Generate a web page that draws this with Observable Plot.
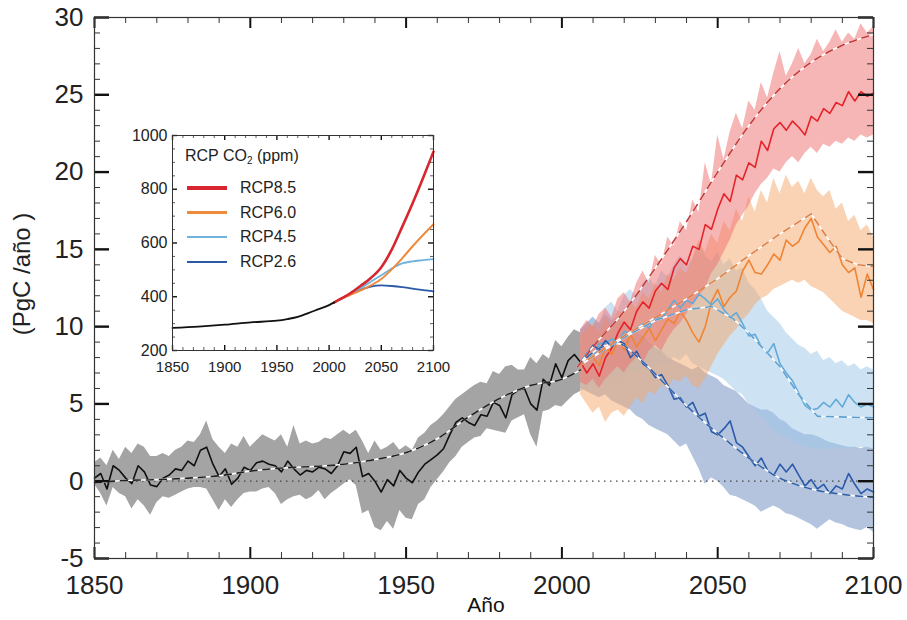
<!DOCTYPE html>
<html><head><meta charset="utf-8">
<script src="https://cdn.jsdelivr.net/npm/d3@7"></script>
<script src="https://cdn.jsdelivr.net/npm/@observablehq/plot@0.6"></script>
<style>
body{margin:0;background:#fff;font-family:"Liberation Sans",Arial,sans-serif;}
#wrap{position:relative;width:907px;height:620px;overflow:hidden;}
#inset{position:absolute;left:117px;top:123px;}
.lg{position:absolute;font-size:16px;color:#222;white-space:nowrap;line-height:18px;}
.lg sub{font-size:10px;vertical-align:-3px;line-height:0;}
.sw{position:absolute;width:40px;}
</style></head><body><div id="wrap"></div>
<script>
// ---------------- Main chart data ----------------
const histYears = d3.range(1850, 2007, 2);
const histMean = [0.2, 0.5, -0.5, 1.0, 0.7,
  0.2, -0.15, 1.0, 0.6, -0.25,
  -0.35, 0.2, 0.4, 0.8, 0.7,
  1.3, 1.0, 2.0, 2.2, 1.1,
  0.3, 0.8, -0.2, 0.2, 0.9,
  0.7, 1.2, 1.3, 1.1, 1.0,
  0.6, 1.3, 0.8, 0.4, 0.7,
  0.6, 0.9, 0.8, 0.5, 1.0,
  1.9, 1.8, 2.2, 0.3, 0.5,
  0.0, -0.7, 0.1, -0.3, 0.7,
  0.2, -0.1, 0.6, 1.1, 1.4,
  1.7, 2.1, 3.0, 3.8, 4.1,
  3.8, 3.6, 4.3, 4.2, 5.1,
  4.9, 4.1, 5.6, 5.9, 6.0,
  5.0, 4.6, 6.6, 6.2, 7.6,
  6.7, 7.8, 8.2, 7.7];
const histHi = [1.2, 1.5, 1.0, 2.0, 1.4,
  2.2, 1.8, 2.4, 2.2, 1.6,
  1.6, 1.8, 1.6, 2.0, 2.2,
  2.6, 2.5, 3.0, 3.9, 2.7,
  2.2, 1.8, 2.4, 2.2, 2.9,
  2.2, 2.6, 3.0, 2.8, 2.6,
  3.0, 2.2, 3.6, 2.4, 2.6,
  2.4, 2.5, 2.8, 2.7, 3.0,
  3.3, 3.0, 3.3, 2.6, 1.8,
  2.6, 2.0, 2.2, 2.5, 2.0,
  2.3, 2.0, 2.8, 3.1, 3.6,
  3.9, 4.3, 4.8, 5.3, 5.6,
  5.9, 6.2, 6.4, 6.3, 7.1,
  6.9, 7.4, 7.5, 7.2, 7.2,
  8.0, 7.6, 8.2, 7.9, 9.1,
  8.7, 9.3, 9.8, 9.6];
const histLo = [-0.2, -0.8, -1.6, -0.4, -0.8,
  -1.0, -1.8, -1.2, -1.6, -2.2,
  -1.4, -1.0, -1.1, -0.9, -0.7,
  -0.5, -0.4, -0.4, -0.5, -1.2,
  -1.9, -1.2, -1.7, -1.2, -0.8,
  -0.7, -0.7, -0.5, -0.4, -0.8,
  -1.5, -1.2, -1.0, -0.9, -1.2,
  -1.0, -0.6, -1.2, -0.8, -0.5,
  -0.2, 0.1, -0.3, -2.1, -1.9,
  -3.0, -3.2, -2.6, -3.1, -1.9,
  -2.4, -2.5, -1.5, -1.2, -0.4,
  0.1, 0.6, 1.2, 1.6, 2.2,
  2.5, 2.8, 2.9, 3.4, 3.3,
  3.2, 3.1, 3.9, 4.1, 4.3,
  3.0, 2.2, 4.5, 4.6, 4.9,
  4.8, 5.2, 5.6, 5.8];
const histSmoothYears = [1850,1860,1870,1880,1890,1900,1910,1920,1930,1940,1950,1960,1970,1980,1990,2000,2006];
const histSmooth = [-0.1, 0.05, 0.1, 0.2, 0.35, 0.65, 0.85, 0.95, 1.1, 1.4, 1.85, 2.75, 4.15, 5.35, 6.2, 6.6, 7.2];

const scenYears = d3.range(2006, 2101, 2);
const rcp85Mean = [7.7, 7.0, 7.6, 6.8, 8.0, 8.6, 9.6, 10.3, 9.8, 11.0,
  11.6, 11.2, 12.3, 12.8, 12.4, 13.8, 14.4, 14.0, 15.2, 15.0,
  16.6, 16.3, 17.6, 18.6, 18.1, 19.8, 19.5, 20.6, 20.3, 22.0,
  21.4, 22.8, 23.2, 22.7, 23.3, 22.9, 22.4, 23.6, 23.3, 24.1,
  23.8, 24.5, 24.3, 25.2, 24.6, 25.2, 24.9, 25.1];
const rcp85Hi = [9.8, 10.4, 10.0, 10.8, 11.2, 10.6, 11.8, 12.2, 11.6, 12.8,
  13.6, 12.8, 14.6, 14.0, 15.8, 15.2, 16.8, 16.2, 18.2, 17.4,
  20.6, 19.2, 22.4, 20.8, 22.6, 23.8, 22.8, 24.6, 24.0, 25.8,
  24.8, 26.4, 27.8, 26.2, 27.0, 28.0, 27.0, 27.6, 28.6, 27.8,
  28.4, 29.2, 28.4, 29.0, 28.6, 29.6, 29.0, 29.4];
const rcp85Lo = [6.4, 6.2, 6.6, 6.0, 6.6, 7.0, 7.4, 7.0, 7.6, 8.0,
  7.6, 8.4, 8.8, 8.4, 9.2, 9.8, 10.2, 10.8, 11.4, 12.0,
  12.4, 13.4, 14.0, 14.8, 15.6, 16.6, 17.2, 17.8, 18.6, 19.2,
  19.6, 20.2, 20.0, 20.6, 21.0, 20.6, 21.2, 21.6, 21.2, 21.8,
  21.6, 22.0, 21.8, 22.2, 22.0, 22.4, 22.2, 22.4];
const rcp85SmoothYears = [2005,2010,2020,2030,2040,2050,2060,2070,2080,2090,2100];
const rcp85Smooth = [7.4, 8.7, 11.0, 13.8, 16.8, 20.0, 23.0, 25.4, 27.1, 28.2, 28.9];

const rcp60Mean = [7.7, 7.9, 8.0, 7.5, 8.7, 8.2, 9.1, 8.5, 9.5, 8.7,
  9.3, 9.9, 9.1, 9.8, 10.5, 10.2, 11.0, 10.4, 9.6, 9.0,
  10.0, 11.6, 12.4, 11.3, 11.9, 12.3, 13.6, 14.3, 13.5, 13.4,
  14.0, 14.7, 14.3, 15.6, 15.2, 15.5, 16.4, 17.0, 15.8, 15.3,
  14.8, 15.2, 14.0, 13.5, 13.8, 11.9, 13.4, 12.4];
const rcp60Hi = [9.4, 9.8, 10.2, 9.6, 10.6, 10.0, 11.0, 10.8, 11.6, 11.2,
  12.2, 11.8, 12.8, 12.2, 13.4, 13.0, 13.8, 13.4, 14.4, 15.6,
  14.8, 16.0, 15.4, 16.8, 16.2, 17.6, 16.8, 18.4, 17.4, 18.8,
  18.0, 19.6, 18.6, 19.8, 19.0, 19.4, 18.6, 19.6, 18.8, 18.4,
  18.8, 17.6, 18.0, 16.8, 17.2, 16.2, 16.6, 15.8];
const rcp60Lo = [5.6, 5.0, 4.4, 4.8, 3.8, 4.4, 4.6, 4.2, 4.8, 5.4,
  5.0, 5.8, 5.6, 6.2, 6.0, 6.6, 6.4, 6.8, 6.2, 6.0,
  6.6, 7.4, 8.2, 8.8, 9.4, 9.8, 10.4, 10.8, 11.4, 11.8,
  12.0, 12.4, 12.6, 12.8, 13.0, 12.8, 13.0, 12.6, 12.4, 12.2,
  11.8, 11.4, 11.0, 10.8, 10.6, 10.4, 10.4, 10.2];
const rcp60SmoothYears = [2005,2020,2030,2040,2050,2060,2070,2080,2085,2090,2095,2100];
const rcp60Smooth = [7.4, 9.4, 10.6, 11.8, 13.1, 14.6, 16.0, 17.3, 15.8, 14.4, 14.0, 13.9];

const rcp45Mean = [7.7, 8.3, 8.0, 8.9, 8.9, 9.2, 9.0, 9.7, 9.5, 9.9,
  10.2, 9.9, 10.6, 10.5, 11.1, 11.7, 11.2, 11.7, 11.5, 12.1,
  11.8, 11.4, 11.8, 11.1, 10.6, 10.9, 10.2, 9.4, 9.5, 8.7,
  8.3, 8.9, 7.6, 7.0, 6.5, 5.7, 4.9, 4.6, 4.7, 5.1,
  4.8, 5.3, 4.8, 5.6, 5.1, 4.8, 5.0, 4.8];
const rcp45Hi = [9.6, 10.2, 10.6, 10.2, 11.2, 11.6, 11.0, 12.0, 12.4, 12.0,
  12.8, 13.2, 12.6, 13.6, 13.2, 14.0, 14.6, 13.8, 14.4, 15.4,
  14.6, 14.2, 14.8, 14.0, 14.4, 13.6, 13.8, 12.8, 12.4, 11.8,
  11.0, 10.6, 10.2, 9.6, 9.2, 8.8, 8.6, 8.2, 8.4, 7.8,
  8.0, 7.6, 7.8, 7.4, 7.6, 7.2, 7.4, 7.2];
const rcp45Lo = [5.8, 6.0, 6.4, 6.2, 6.6, 6.8, 6.6, 7.0, 7.2, 7.0,
  7.4, 7.6, 7.4, 7.8, 7.6, 8.0, 7.8, 8.2, 7.6, 7.4,
  7.2, 7.0, 6.8, 6.6, 6.2, 5.8, 5.6, 5.0, 4.6, 4.2,
  3.8, 3.4, 3.0, 2.8, 2.6, 2.4, 2.2, 2.2, 2.0, 2.2,
  2.0, 2.2, 2.0, 2.2, 2.0, 2.2, 2.0, 2.1];
const rcp45SmoothYears = [2005,2020,2030,2040,2048,2055,2060,2070,2076,2082,2100];
const rcp45Smooth = [7.4, 9.3, 10.4, 11.1, 11.3, 10.5, 9.6, 7.4, 5.6, 4.2, 4.1];

const rcp26Mean = [7.7, 8.2, 8.8, 8.5, 9.1, 8.7, 9.1, 8.9, 8.0, 8.4,
  7.6, 7.3, 6.7, 6.9, 6.2, 5.3, 5.4, 4.8, 5.1, 4.2,
  4.4, 3.2, 3.0, 3.4, 3.9, 2.5, 2.2, 1.6, 1.0, 1.5,
  0.7, 0.4, 1.1, 0.6, 1.1, 0.4, -0.3, 0.1, -0.5, -0.2,
  -0.8, -0.3, -0.5, 0.5, -0.2, -0.8, -0.5, -0.7];
const rcp26Hi = [9.8, 10.2, 10.6, 10.2, 10.8, 10.4, 10.6, 10.2, 10.0, 9.6,
  9.4, 9.0, 8.6, 8.4, 8.0, 7.8, 7.6, 7.4, 7.2, 7.4,
  7.0, 6.8, 6.6, 6.2, 6.0, 5.8, 5.4, 5.0, 4.8, 4.6,
  4.6, 4.4, 4.0, 3.8, 3.4, 3.2, 3.0, 3.0, 2.9, 2.7,
  2.5, 2.4, 2.3, 2.2, 2.2, 2.1, 2.2, 2.1];
const rcp26Lo = [6.0, 5.8, 5.6, 5.4, 5.6, 5.2, 5.0, 4.8, 4.6, 4.2,
  4.0, 3.6, 3.4, 3.2, 3.0, 2.6, 2.2, 2.4, 1.6, 0.8,
  -0.2, 0.2, 0.0, -0.4, -0.9, -1.0, -1.2, -1.4, -1.6, -2.0,
  -1.8, -1.6, -1.8, -2.1, -2.2, -2.4, -2.6, -2.8, -3.1, -2.8,
  -2.5, -2.7, -2.8, -3.0, -3.1, -3.2, -3.0, -3.3];
const rcp26SmoothYears = [2005,2012,2018,2025,2034,2042,2050,2060,2070,2080,2090,2100];
const rcp26Smooth = [7.4, 8.6, 8.9, 7.9, 6.1, 4.5, 3.1, 1.5, 0.2, -0.5, -0.85, -1.05];

const xTickLabels = [1850, 1900, 1950, 2000, 2050, 2100];
const yTickLabels = [-5, 0, 5, 10, 15, 20, 25, 30];

// ---------------- Inset data ----------------
const co2HistYears = [1850, 1875, 1900, 1925, 1950, 1960, 1970, 1980, 1990, 2000, 2005];
const co2Hist = [284, 289, 296, 305, 311, 317, 325, 339, 354, 369, 379];
const co2ScenYears = [2005, 2010, 2020, 2030, 2040, 2050, 2060, 2070, 2080, 2090, 2100];
const co2Rcp85 = [379, 390, 412, 440, 470, 510, 575, 660, 748, 842, 940];
const co2Rcp60 = [379, 389, 406, 423, 442, 466, 502, 543, 588, 630, 670];
const co2Rcp45 = [379, 389, 410, 432, 456, 480, 505, 524, 532, 536, 540];
const co2Rcp26 = [379, 389, 410, 426, 438, 442, 440, 436, 430, 425, 420];
const insetXTicks = [1850, 1900, 1950, 2000, 2050, 2100];
const insetYTicks = [200, 400, 600, 800, 1000];
const legendNames = ["RCP8.5", "RCP6.0", "RCP4.5", "RCP2.6"];

// ---------------- Styles ----------------
const scenarios = [
  {name:"RCP2.6", mean:rcp26Mean, hi:rcp26Hi, lo:rcp26Lo, sy:rcp26SmoothYears, s:rcp26Smooth,
   band:"rgb(105,137,190)", line:"#2b5ba9", dash:"#3262a8", curve:"monotone-x"},
  {name:"RCP4.5", mean:rcp45Mean, hi:rcp45Hi, lo:rcp45Lo, sy:rcp45SmoothYears, s:rcp45Smooth,
   band:"rgb(155,200,232)", line:"#62aad9", dash:"#5f9fcf", curve:"linear"},
  {name:"RCP6.0", mean:rcp60Mean, hi:rcp60Hi, lo:rcp60Lo, sy:rcp60SmoothYears, s:rcp60Smooth,
   band:"rgb(245,165,105)", line:"#ef8534", dash:"#de7e44", curve:"linear"},
  {name:"RCP8.5", mean:rcp85Mean, hi:rcp85Hi, lo:rcp85Lo, sy:rcp85SmoothYears, s:rcp85Smooth,
   band:"rgb(240,110,110)", line:"#e4232b", dash:"#c33a3a", curve:"monotone-x"}
];
scenarios.forEach(s => {
  s.rows = scenYears.map((y, i) => ({year: y, mean: s.mean[i], hi: s.hi[i], lo: s.lo[i]}));
  s.smooth = s.sy.map((y, i) => ({year: y, v: s.s[i]}));
});
const hist = histYears.map((y, i) => ({year: y, mean: histMean[i], hi: histHi[i], lo: histLo[i]}));
const histS = histSmoothYears.map((y, i) => ({year: y, v: histSmooth[i]}));

const W = 907, H = 620, mL = 94, mR = 34, mT = 17, mB = 62;
const fw = W - mL - mR, fh = H - mT - mB;
const xMinor = d3.range(1850, 2101, 10).filter(d => d % 50);
const yMinor = d3.range(-5, 31, 1).filter(d => d % 5);
const tickC = "#333";

const marks = [];
marks.push(Plot.areaY(hist, {x:"year", y1:"lo", y2:"hi", fill:"#a4a4a4"}));
scenarios.forEach(s => marks.push(Plot.areaY(s.rows, {x:"year", y1:"lo", y2:"hi", fill:s.band, fillOpacity:0.5})));
marks.push(Plot.ruleY([0], {stroke:"#444", strokeWidth:1.3, strokeDasharray:"1.5,4.5"}));
marks.push(Plot.lineY(hist, {x:"year", y:"mean", stroke:"#111", strokeWidth:1.6}));
[3,2,1,0].forEach(k => { const s = scenarios[k];
  marks.push(Plot.lineY(s.rows, {x:"year", y:"mean", stroke:s.line, strokeWidth:1.6})); });
marks.push(Plot.line(histS, {x:"year", y:"v", stroke:"white", strokeWidth:1.6, curve:"monotone-x"}));
marks.push(Plot.line(histS, {x:"year", y:"v", stroke:"#222", strokeWidth:1.6, strokeDasharray:"7,6", curve:"monotone-x"}));
scenarios.forEach(s => {
  marks.push(Plot.line(s.smooth, {x:"year", y:"v", stroke:"white", strokeWidth:1.6, curve:s.curve}));
  marks.push(Plot.line(s.smooth, {x:"year", y:"v", stroke:s.dash, strokeWidth:1.6, strokeDasharray:"7,6", curve:s.curve}));
});
// inward ticks on all four sides
marks.push(Plot.ruleX(xMinor, {stroke:tickC, strokeWidth:1, insetTop: fh - 6}));
marks.push(Plot.ruleX(xMinor, {stroke:tickC, strokeWidth:1, insetBottom: fh - 6}));
marks.push(Plot.ruleX(xTickLabels, {stroke:"#111", strokeWidth:2, insetTop: fh - 11}));
marks.push(Plot.ruleX(xTickLabels, {stroke:"#111", strokeWidth:2, insetBottom: fh - 11}));
marks.push(Plot.ruleY(yMinor, {stroke:tickC, strokeWidth:1, insetRight: fw - 6}));
marks.push(Plot.ruleY(yMinor, {stroke:tickC, strokeWidth:1, insetLeft: fw - 6}));
marks.push(Plot.ruleY(yTickLabels, {stroke:"#111", strokeWidth:2.4, insetRight: fw - 15}));
marks.push(Plot.ruleY(yTickLabels, {stroke:"#111", strokeWidth:2.4, insetLeft: fw - 15}));
marks.push(Plot.frame({stroke:"#333", strokeWidth:1.2}));
marks.push(Plot.axisX(xTickLabels, {tickSize:0, tickPadding:17, fontSize:26, tickFormat:d => String(d), label:null}));
marks.push(Plot.axisY(yTickLabels, {tickSize:0, tickPadding:11, fontSize:26, tickFormat:d => String(d), label:null}));
marks.push(Plot.text(["(PgC /año )"], {text:d => d, frameAnchor:"left", textAnchor:"middle", lineAnchor:"middle", dx:-72, dy:-14, rotate:-90, fontSize:24, fill:"#222"}));
marks.push(Plot.text(["Año"], {text:d => d, frameAnchor:"bottom", textAnchor:"middle", lineAnchor:"middle", dx:2, dy:47, fontSize:21, fill:"#111"}));

const main = Plot.plot({
  width: W, height: H, marginLeft: mL, marginRight: mR, marginTop: mT, marginBottom: mB,
  x: {domain: [1850, 2100]},
  y: {domain: [-5, 30]},
  style: {fontFamily: '"Liberation Sans", Arial, sans-serif', color: "#222", background: "white"},
  marks
});
const wrap = document.getElementById("wrap");
wrap.appendChild(main);

// ---------------- Inset ----------------
const co2H = co2HistYears.map((y, i) => ({year: y, v: co2Hist[i]}));
const insetSeries = [
  {vals: co2Rcp26, color: "#2a5aa6", w: 1.8},
  {vals: co2Rcp45, color: "#6fb3de", w: 1.8},
  {vals: co2Rcp60, color: "#ef8a3c", w: 2.0},
  {vals: co2Rcp85, color: "#d7262f", w: 2.6}
];
const iW = 336, iH = 267, imL = 55, imR = 20, imT = 12, imB = 40;
const ifw = iW - imL - imR, ifh = iH - imT - imB;
const ixMinor = d3.range(1850, 2101, 10).filter(d => d % 50);
const iyMinor = d3.range(200, 1001, 50).filter(d => d % 200);
const imarks = [];
insetSeries.forEach(s => imarks.push(Plot.line(co2ScenYears.map((y, i) => ({year: y, v: s.vals[i]})),
  {x:"year", y:"v", stroke:s.color, strokeWidth:s.w, curve:"monotone-x"})));
imarks.push(Plot.line(co2H, {x:"year", y:"v", stroke:"#111", strokeWidth:1.8, curve:"monotone-x"}));
imarks.push(Plot.ruleX(ixMinor, {stroke:tickC, strokeWidth:0.8, insetTop: ifh - 3}));
imarks.push(Plot.ruleX(ixMinor, {stroke:tickC, strokeWidth:0.8, insetBottom: ifh - 3}));
imarks.push(Plot.ruleX(insetXTicks, {stroke:"#111", strokeWidth:1.4, insetTop: ifh - 5}));
imarks.push(Plot.ruleX(insetXTicks, {stroke:"#111", strokeWidth:1.4, insetBottom: ifh - 5}));
imarks.push(Plot.ruleY(iyMinor, {stroke:tickC, strokeWidth:0.8, insetRight: ifw - 3}));
imarks.push(Plot.ruleY(iyMinor, {stroke:tickC, strokeWidth:0.8, insetLeft: ifw - 3}));
imarks.push(Plot.ruleY(insetYTicks, {stroke:"#111", strokeWidth:1.4, insetRight: ifw - 5}));
imarks.push(Plot.ruleY(insetYTicks, {stroke:"#111", strokeWidth:1.4, insetLeft: ifw - 5}));
imarks.push(Plot.frame({stroke:"#333", strokeWidth:1}));
imarks.push(Plot.axisX(insetXTicks, {tickSize:0, tickPadding:11, fontSize:15, tickFormat:d => String(d), label:null}));
imarks.push(Plot.axisY(insetYTicks, {tickSize:0, tickPadding:5, fontSize:16, tickFormat:d => String(d), label:null}));
const inset = Plot.plot({
  width: iW, height: iH, marginLeft: imL, marginRight: imR, marginTop: imT, marginBottom: imB,
  x: {domain: [1850, 2100]}, y: {domain: [200, 1000]},
  style: {fontFamily: '"Liberation Sans", Arial, sans-serif', color: "#222", background: "white"},
  marks: imarks
});
inset.id = "inset";
wrap.appendChild(inset);

// ---------------- Inset legend ----------------
const legendColors = ["#d7262f", "#ef8a3c", "#6fb3de", "#2a5aa6"];
const legendWidths = [4, 3.5, 2.5, 2.5];
const title = document.createElement("div");
title.className = "lg";
title.style.left = "185px"; title.style.top = "147px";
title.innerHTML = "RCP CO<sub>2</sub> (ppm)";
wrap.appendChild(title);
legendNames.forEach((n, i) => {
  const cy = 188 + i * 24.6;
  const sw = document.createElement("div");
  sw.className = "sw";
  sw.style.left = "187px"; sw.style.top = (cy - legendWidths[i] / 2) + "px";
  sw.style.height = legendWidths[i] + "px"; sw.style.background = legendColors[i];
  wrap.appendChild(sw);
  const t = document.createElement("div");
  t.className = "lg";
  t.style.left = "240px"; t.style.top = (cy - 9) + "px";
  t.textContent = n;
  wrap.appendChild(t);
});
</script></body></html>
